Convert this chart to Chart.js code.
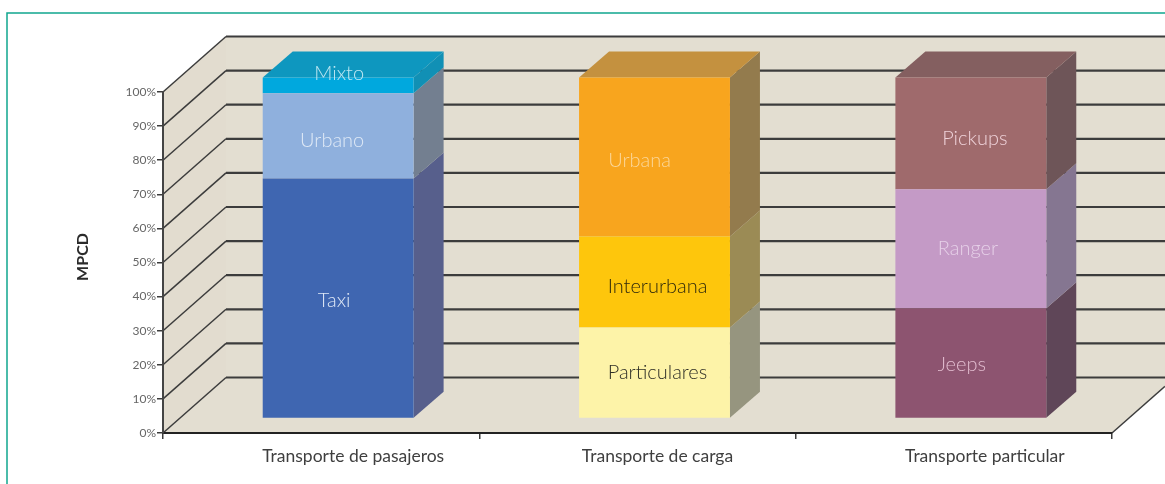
<!DOCTYPE html>
<html>
<head>
<meta charset="utf-8">
<title>MPCD</title>
<style>
    html, body { margin: 0; padding: 0; background: #fff; }
    canvas { display: block; filter: blur(0.6px); }
</style>
<script src="https://cdn.jsdelivr.net/npm/chart.js@4/dist/chart.umd.min.js"></script>
</head>
<body>
<canvas id="chart" width="1165" height="484"></canvas>
<script>
const categories = ['Transporte de pasajeros', 'Transporte de carga', 'Transporte particular'];
const yTicks = '%';
const yAxisTitle = 'MPCD';

// percentages
const lowerValues = [70.4, 26.7, 32.3];
const middleValues = [25.0, 26.7, 34.9];
const upperValues = [4.6, 46.6, 32.8];

const lowerNames = ['Taxi', 'Particulares', 'Jeeps'];
const middleNames = ['Urbano', 'Interurbana', 'Ranger'];
const upperNames = ['Mixto', 'Urbana', 'Pickups'];

const lowerColors = ['#3f66b1', '#fdf3a8', '#8d5470'];
const middleColors = ['#8fb0dd', '#fec60c', '#c49ac6'];
const upperColors = ['#00a8de', '#f8a51e', '#9f6a6c'];

const lowerSides = ['#575f8c', '#96957f', '#5f4658'];
const middleSides = ['#737f90', '#9b8b55', '#857691'];
const upperSides = ['#1190b5', '#937b4d', '#6e5558'];
const topColors = ['#0e97bf', '#c4913f', '#845f60'];

const lowerText = ['#dfe8f6', '#2e2e26', '#e3bdd0'];
const middleText = ['#dfe9f6', '#302a0c', '#e6d0e8'];
const upperText = ['#bfe8f3', '#fbd79a', '#efd2d9'];

const wallColor = '#e3ded1';
const sideWallColor = '#e2dccf';
const lineColor = '#3c3c3c';

const wallDepth = { x: 63, y: -55.5 };
const barShift = { x: 17, y: -14.5 };
const barDepth = { x: 30, y: -26 };
// hand nudges for labels that don't sit dead centre in the original
const lowerNudge = [[-4, 2], [3, 0], [-9, 1]];
const middleNudge = [[-6, 5], [3, 5], [-3, 0]];
const upperNudge = [[1, -12], [-15, 4], [4, 5]];
const xLabelNudge = [32, 20, 31];

const sets = [
    { names: lowerNames, sides: lowerSides, text: lowerText, nudge: lowerNudge },
    { names: middleNames, sides: middleSides, text: middleText, nudge: middleNudge },
    { names: upperNames, sides: upperSides, text: upperText, nudge: upperNudge }
];

const scenery = {
    id: 'scenery',
    beforeDraw(chart) {
        const { ctx, chartArea: a, scales } = chart;
        const w = chart.width;
        ctx.save();
        ctx.fillStyle = '#fff';
        ctx.fillRect(0, 0, w, chart.height);

        // frame
        ctx.strokeStyle = '#10a78f';
        ctx.lineWidth = 1.5;
        ctx.beginPath();
        ctx.moveTo(7, chart.height);
        ctx.lineTo(7, 13);
        ctx.lineTo(w, 13);
        ctx.stroke();

        // left wall
        ctx.fillStyle = sideWallColor;
        ctx.beginPath();
        ctx.moveTo(a.left, a.bottom);
        ctx.lineTo(a.left, a.top);
        ctx.lineTo(a.left + wallDepth.x, a.top + wallDepth.y);
        ctx.lineTo(a.left + wallDepth.x, a.bottom + wallDepth.y);
        ctx.closePath();
        ctx.fill();

        // back wall and floor
        ctx.fillStyle = wallColor;
        ctx.beginPath();
        ctx.moveTo(a.left, a.bottom);
        ctx.lineTo(a.left + wallDepth.x, a.bottom + wallDepth.y);
        ctx.lineTo(a.left + wallDepth.x, a.top + wallDepth.y);
        ctx.lineTo(w, a.top + wallDepth.y);
        ctx.lineTo(w, a.bottom + wallDepth.y * (w - a.right) / wallDepth.x);
        ctx.lineTo(a.right, a.bottom);
        ctx.closePath();
        ctx.fill();

        // gridlines run along the left wall then across the back
        ctx.strokeStyle = lineColor;
        scales.y.ticks.forEach(t => {
            const y = scales.y.getPixelForValue(t.value);
            ctx.lineWidth = 1.5;
            ctx.beginPath();
            ctx.moveTo(a.left, y);
            ctx.lineTo(a.left + wallDepth.x, y + wallDepth.y);
            ctx.stroke();
            ctx.lineWidth = 2.2;
            ctx.beginPath();
            ctx.moveTo(a.left + wallDepth.x, y + wallDepth.y);
            ctx.lineTo(w, y + wallDepth.y);
            ctx.stroke();
        });

        // right edge of the floor
        ctx.lineWidth = 1.5;
        ctx.beginPath();
        ctx.moveTo(a.right, a.bottom);
        ctx.lineTo(w, a.bottom + wallDepth.y * (w - a.right) / wallDepth.x);
        ctx.stroke();
        ctx.restore();
    },
    beforeDatasetsDraw(chart) {
        const { ctx } = chart;
        ctx.save();
        ctx.translate(barShift.x, barShift.y);

        // side faces
        sets.forEach((set, d) => {
            chart.getDatasetMeta(d).data.forEach((bar, i) => {
                const right = bar.x + bar.width / 2;
                ctx.fillStyle = set.sides[i];
                ctx.beginPath();
                ctx.moveTo(right, bar.base);
                ctx.lineTo(right + barDepth.x, bar.base + barDepth.y);
                ctx.lineTo(right + barDepth.x, bar.y + barDepth.y);
                ctx.lineTo(right, bar.y);
                ctx.closePath();
                ctx.fill();
            });
        });

        // top faces
        chart.getDatasetMeta(sets.length - 1).data.forEach((bar, i) => {
            const left = bar.x - bar.width / 2;
            const right = bar.x + bar.width / 2;
            ctx.fillStyle = topColors[i];
            ctx.beginPath();
            ctx.moveTo(left, bar.y);
            ctx.lineTo(right, bar.y);
            ctx.lineTo(right + barDepth.x, bar.y + barDepth.y);
            ctx.lineTo(left + barDepth.x, bar.y + barDepth.y);
            ctx.closePath();
            ctx.fill();
        });
    },
    afterDatasetsDraw(chart) {
        const { ctx, scales } = chart;
        // segment names, still inside the bars' shifted space
        ctx.font = '300 20px Lato';
        ctx.textAlign = 'center';
        ctx.textBaseline = 'middle';
        sets.forEach((set, d) => {
            chart.getDatasetMeta(d).data.forEach((bar, i) => {
                ctx.fillStyle = set.text[i];
                ctx.fillText(set.names[i], bar.x + set.nudge[i][0], (bar.y + bar.base) / 2 + set.nudge[i][1]);
            });
        });
        ctx.restore();

        // category names sit off the tick centres in the original
        ctx.save();
        ctx.font = '17.5px Lato';
        ctx.fillStyle = '#3f3f3f';
        ctx.textAlign = 'center';
        ctx.textBaseline = 'middle';
        categories.forEach((name, i) => {
            ctx.fillText(name, scales.x.getPixelForTick(i) + xLabelNudge[i], 456);
        });
        ctx.restore();

        ctx.save();
        ctx.translate(83, 257);
        ctx.rotate(-Math.PI / 2);
        ctx.font = 'bold 16px Lato';
        ctx.fillStyle = '#2b2b2b';
        ctx.textAlign = 'center';
        ctx.textBaseline = 'middle';
        ctx.fillText(yAxisTitle, 0, 0);
        ctx.restore();
    }
};

new Chart(document.getElementById('chart'), {
    type: 'bar',
    data: {
        labels: categories,
        datasets: [
            { label: 'lower', data: lowerValues, backgroundColor: lowerColors, clip: false },
            { label: 'middle', data: middleValues, backgroundColor: middleColors, clip: false },
            { label: 'upper', data: upperValues, backgroundColor: upperColors, clip: false }
        ]
    },
    plugins: [scenery],
    options: {
        responsive: false,
        animation: false,
        barPercentage: 0.477,
        categoryPercentage: 1,
        layout: { padding: { left: 76, top: 92, right: 53, bottom: 0 } },
        plugins: { legend: { display: false }, tooltip: { enabled: false } },
        scales: {
            x: {
                stacked: true,
                afterFit(scale) { scale.height = 51; },
                grid: { offset: true, drawOnChartArea: false, color: lineColor, tickLength: 6, lineWidth: 1.5 },
                border: { color: '#222', width: 2 },
                ticks: { display: false }
            },
            y: {
                stacked: true,
                min: 0,
                max: 100,
                afterFit(scale) { scale.width = 87; },
                grid: { drawOnChartArea: false, color: lineColor, tickLength: 6, lineWidth: 1.5 },
                border: { color: '#444', width: 2 },
                ticks: {
                    stepSize: 10,
                    color: '#666',
                    font: { family: 'Lato', size: 12 },
                    padding: 1,
                    callback: v => v + yTicks
                }
            }
        }
    }
});
</script>
</body>
</html>
